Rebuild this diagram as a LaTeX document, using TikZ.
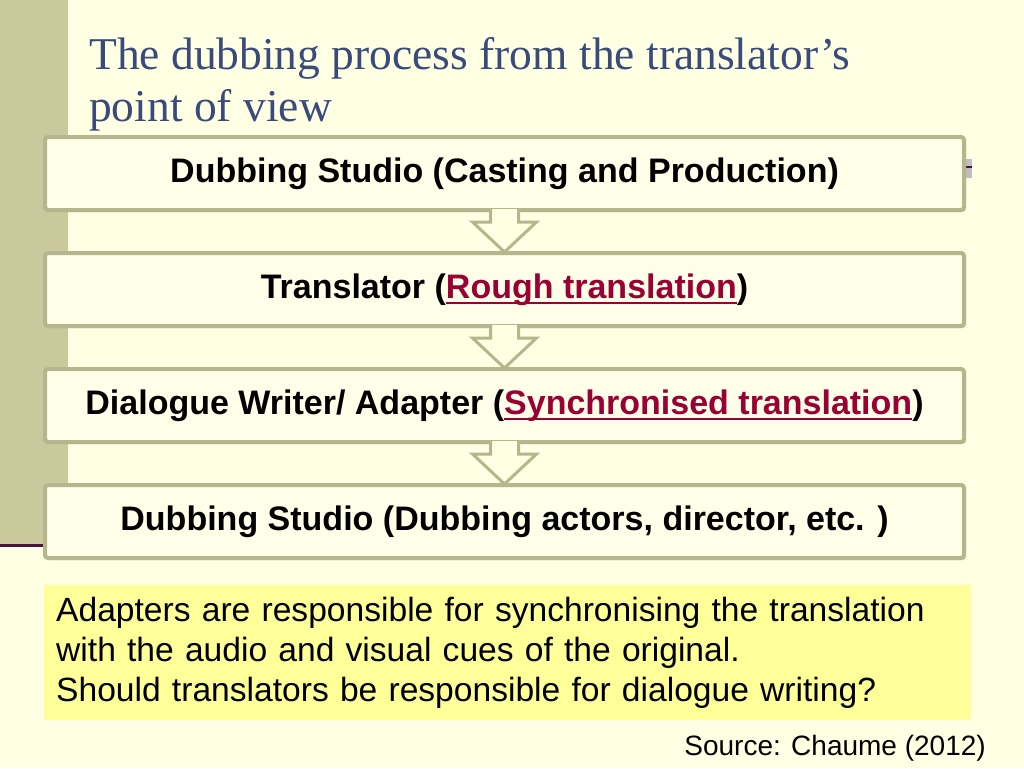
\documentclass[tikz,border=0pt]{standalone}
\usepackage{fontspec}
\setmainfont{Liberation Sans}
\newfontfamily\titlefont{Liberation Serif}
\usetikzlibrary{calc,positioning,shadows}
\definecolor{slidebg}{HTML}{FFFFE4}
\definecolor{sidebar}{HTML}{C9C99D}
\definecolor{boxline}{HTML}{B6B68D}
\definecolor{boxfill}{HTML}{FFFFE9}
\definecolor{notefill}{HTML}{FFFF99}
\definecolor{titleblue}{HTML}{3A4A7B}
\definecolor{linkred}{HTML}{990033}
\definecolor{titleline}{HTML}{4A1040}
\newcommand\redlink[1]{{\color{linkred}\setbox0\hbox{#1}\rlap{\rule[-6pt]{\wd0}{2.5pt}}\box0}}

\begin{document}
\begin{tikzpicture}[x=1pt,y=-1pt,
	stepbox/.style={draw=boxline,line width=4pt,rounded corners=3pt,fill=boxfill,
		minimum width=919pt,minimum height=73pt,inner sep=0pt,
		font=\fontsize{34}{40}\selectfont\bfseries,
		drop shadow={shadow xshift=2pt,shadow yshift=-2pt,fill=black!30,opacity=0.5}},
	flowarrow/.style={draw=boxline,line width=3pt,fill=slidebg,line join=miter},
	notebox/.style={fill=notefill,minimum width=927pt,minimum height=135pt,
		text width=903pt,inner xsep=12pt,inner ysep=0pt,align=left,
		font=\fontsize{33.6}{40}\selectfont}]
		\fill [slidebg] (0,0) rectangle (1024,768);
		\useasboundingbox (0,0) rectangle (1024,768);
		% slide decoration
		\fill [sidebar] (0,0) rectangle (68,544);
		\draw [titleline,line width=3pt] (0,545) -- (60,545);
		\fill [black!25] (900,159) rectangle (972,178);
		\draw [titleline,line width=2pt] (900,167) -- (972,167);
		\node [anchor=north west,align=left,inner sep=0pt,text=titleblue,
			font=\titlefont\fontsize{45.5}{52}\selectfont] (title) at (89,37)
			{The dubbing process from the translator’s\\point of view};
		% the four steps
		\node [stepbox] (b1) at (504.5,173.5) {Dubbing Studio (Casting and Production)};
		\node [stepbox,below=39pt of b1] (b2) {Translator (\redlink{Rough translation})};
		\node [stepbox,below=39pt of b2] (b3) {Dialogue Writer/ Adapter (\redlink{Synchronised translation})};
		\node [stepbox,below=39pt of b3] (b4) {Dubbing Studio (Dubbing actors, director, etc. )};
		\foreach \a/\b in {b1/b2,b2/b3,b3/b4}
			\draw [flowarrow] ($(\a.south)+(-14,-3)$) -- ++(0,13) -- ++(-18,0) -- ($(\b.north)+(0,1)$)
				-- ($(\a.south)+(32,10)$) -- ++(-18,0) -- ++(0,-13);
		\node [notebox,anchor=north west] (note) at (44,585)
			{Adapters are responsible for synchronising the translation\\
			with the audio and visual cues of the original.\\
			Should translators be responsible for dialogue writing?};
		\node [anchor=base east,inner sep=0pt,font=\fontsize{28}{34}\selectfont] (src) at (986,755) {Source: Chaume (2012)};
	\end{tikzpicture}
\end{document}
